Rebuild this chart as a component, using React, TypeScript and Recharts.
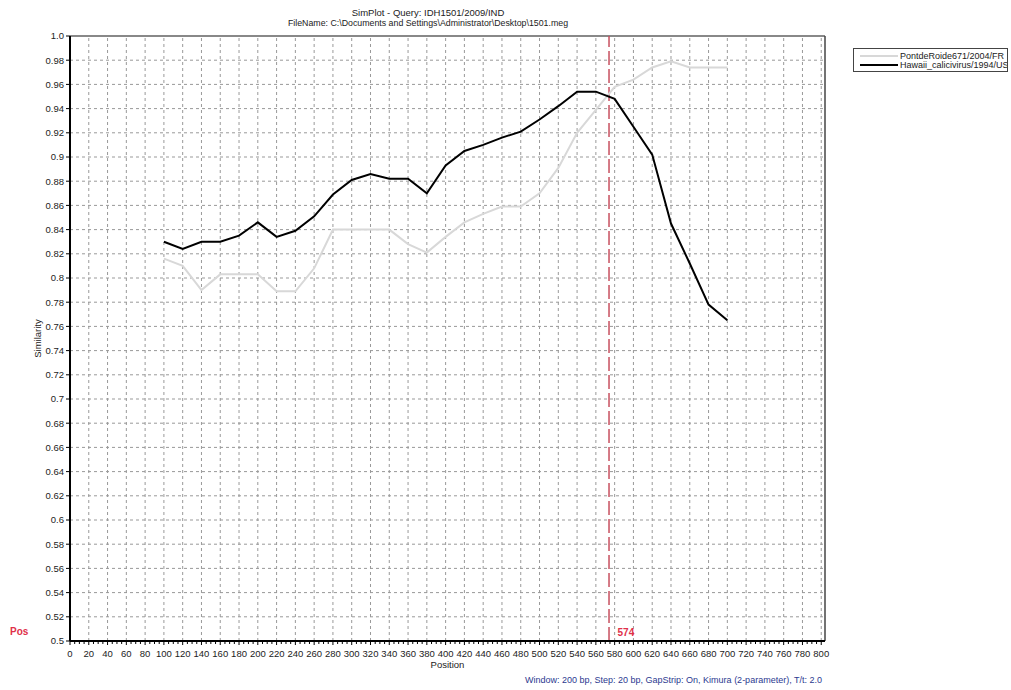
import React from 'react';
import { LineChart, Line, XAxis, YAxis, CartesianGrid, ReferenceLine, Legend } from 'recharts';

const positions = [100, 120, 140, 160, 180, 200, 220, 240, 260, 280, 300, 320, 340, 360, 380, 400, 420, 440, 460, 480, 500, 520, 540, 560, 580, 600, 620, 640, 660, 680, 700];
const pontdeRoide = [0.816, 0.81, 0.79, 0.803, 0.803, 0.803, 0.789, 0.789, 0.808, 0.84, 0.84, 0.84, 0.84, 0.828, 0.821, 0.834, 0.846, 0.853, 0.859, 0.859, 0.87, 0.891, 0.92, 0.939, 0.958, 0.964, 0.974, 0.979, 0.974, 0.974, 0.974];
const hawaii = [0.83, 0.824, 0.83, 0.83, 0.835, 0.846, 0.834, 0.839, 0.851, 0.869, 0.881, 0.886, 0.882, 0.882, 0.87, 0.893, 0.905, 0.91, 0.916, 0.921, 0.931, 0.942, 0.954, 0.954, 0.948, 0.925, 0.902, 0.845, 0.812, 0.778, 0.765];
const seriesNames = ['PontdeRoide671/2004/FR', 'Hawaii_calicivirus/1994/US'];
const yTicks = [0.5, 0.52, 0.54, 0.56, 0.58, 0.6, 0.62, 0.64, 0.66, 0.68, 0.7, 0.72, 0.74, 0.76, 0.78, 0.8, 0.82, 0.84, 0.86, 0.88, 0.9, 0.92, 0.94, 0.96, 0.98, 1.0];
const xMajorTicks = [0, 20, 40, 60, 80, 100, 120, 140, 160, 180, 200, 220, 240, 260, 280, 300, 320, 340, 360, 380, 400, 420, 440, 460, 480, 500, 520, 540, 560, 580, 600, 620, 640, 660, 680, 700, 720, 740, 760, 780, 800];
const xAllTicks = Array.from({ length: 161 }, (_, i) => i * 5);
const breakpoint = 574;
const titleLines = ['SimPlot - Query: IDH1501/2009/IND', 'FileName: C:\\Documents and Settings\\Administrator\\Desktop\\1501.meg'];
const footer = 'Window: 200 bp, Step: 20 bp, GapStrip: On, Kimura (2-parameter), T/t: 2.0';

const data = positions.map((p, i) => ({ pos: p, pont: pontdeRoide[i], hawaii: hawaii[i] }));

const FONT = '"Liberation Sans", Arial, sans-serif';

const XTick = (props: any) => {
  const { x, y, payload } = props;
  const v = payload.value;
  const major = v % 20 === 0;
  return (
    <g>
      <line x1={x} x2={x} y1={y} y2={y + (major ? 4 : 3)} stroke="#000" strokeWidth={1} />
      {major && (
        <text x={x} y={y + 15.5} textAnchor="middle" fontSize={9.5} fill="#222" fontFamily={FONT}>
          {v}
        </text>
      )}
    </g>
  );
};

const fmtY = (v: number) => (v === 1 ? '1.0' : String(Number(v.toFixed(2))));

const LegendBox = (props: any) => {
  const payload = [...(props.payload || [])].sort(
    (a: any, b: any) => seriesNames.indexOf(a.value) - seriesNames.indexOf(b.value)
  );
  return (
    <div style={{ border: '1px solid #444', background: '#fff', padding: '2px 0', fontSize: 9, fontFamily: FONT, color: '#222', overflow: 'hidden' }}>
      {payload.map((e: any, i: number) => (
        <div key={i} style={{ display: 'flex', alignItems: 'center', height: 9, whiteSpace: 'nowrap' }}>
          <span style={{ display: 'inline-block', width: 38, height: 0, borderTop: `2px solid ${e.color}`, margin: '0 2px 0 6px', flexShrink: 0 }} />
          <span>{e.value}</span>
        </div>
      ))}
    </div>
  );
};

export default function App() {
  return (
    <div style={{ position: 'absolute', left: 0, top: 0, width: 1011, height: 690, background: '#fff', fontFamily: FONT }}>
      {titleLines.map((t, i) => (
        <div key={i} style={{ position: 'absolute', left: 0, width: 856, top: 7 + i * 11, textAlign: 'center', fontSize: i === 0 ? 9.5 : 8.8, lineHeight: '11px', color: '#222', whiteSpace: 'nowrap' }}>
          {t}
        </div>
      ))}
      <div style={{ position: 'absolute', left: 10, top: 626, fontSize: 10, fontWeight: 'bold', color: '#e0304a', lineHeight: '11px' }}>Pos</div>
      <div style={{ position: 'absolute', right: 189, top: 675, fontSize: 9, color: '#2b3990', lineHeight: '11px', whiteSpace: 'nowrap' }}>{footer}</div>
      <LineChart width={1011} height={690} data={data} margin={{ top: 36, right: 186, bottom: 19, left: 0 }}>
        <CartesianGrid vertical={false} stroke="#999" strokeDasharray="3 3" />
        {xMajorTicks.filter((v) => v > 0).map((v) => (
          <ReferenceLine key={v} x={v} stroke="#999" strokeDasharray="3 3" />
        ))}
        <ReferenceLine y={1} stroke="#888" strokeWidth={2} />
        <ReferenceLine x={804} stroke="#444" strokeWidth={1.5} />
        <XAxis
          type="number"
          dataKey="pos"
          domain={[0, 804]}
          ticks={xAllTicks}
          interval={0}
          tick={<XTick />}
          tickLine={false}
          tickSize={0}
          tickMargin={0}
          height={30}
          axisLine={{ stroke: '#000', strokeWidth: 2 }}
          label={{ value: 'Position', position: 'insideBottom', offset: 3, fontSize: 9.5, fill: '#222', fontFamily: FONT }}
        />
        <YAxis
          type="number"
          domain={[0.5, 1.0]}
          ticks={yTicks}
          interval={0}
          width={70}
          tickFormatter={fmtY}
          tick={{ fontSize: 9.5, fill: '#222', fontFamily: FONT }}
          tickLine={{ stroke: '#000' }}
          tickSize={4}
          tickMargin={2}
          axisLine={{ stroke: '#000', strokeWidth: 2 }}
          label={{
            content: (p: any) => {
              const vb = p.viewBox || { x: 0, y: 36, width: 70, height: 605 };
              const cx = vb.x + 37;
              const cy = vb.y + vb.height / 2;
              return (
                <text x={cx} y={cy} transform={`rotate(-90 ${cx} ${cy})`} textAnchor="middle" dominantBaseline="central" fontSize={9.5} fill="#222" fontFamily={FONT}>
                  Similarity
                </text>
              );
            },
          }}
        />
        <ReferenceLine
          x={breakpoint}
          stroke="#c85060"
          strokeWidth={1.5}
          strokeDasharray="14 4"
          label={{
            content: (p: any) => {
              const vb = p.viewBox || { x: 609, y: 36, width: 0, height: 605 };
              return (
                <text x={vb.x + 8.5} y={vb.y + vb.height - 5} fontSize={10} fontWeight="bold" fill="#e0304a" fontFamily={FONT}>
                  {breakpoint}
                </text>
              );
            },
          }}
        />
        <Legend
          layout="horizontal"
          verticalAlign="middle"
          align="center"
          content={<LegendBox />}
          wrapperStyle={{ position: 'absolute', left: 853, top: 48, width: 155, height: 22 }}
        />
        <Line type="linear" dataKey="pont" name={seriesNames[0]} stroke="#d8d8d8" strokeWidth={2} dot={false} isAnimationActive={false} />
        <Line type="linear" dataKey="hawaii" name={seriesNames[1]} stroke="#000" strokeWidth={2} dot={false} isAnimationActive={false} />
      </LineChart>
    </div>
  );
}
